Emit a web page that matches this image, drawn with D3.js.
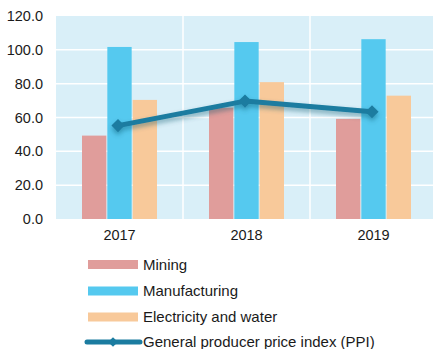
<!DOCTYPE html>
<html>
<head>
<meta charset="utf-8">
<script src="https://cdn.jsdelivr.net/npm/d3@7"></script>
<style>
  html, body { margin: 0; padding: 0; background: #fff; }
  svg { display: block; font-family: Arial, "Liberation Sans", sans-serif; }
</style>
</head>
<body>
<svg id="chart" width="433" height="349"></svg>
<script>
// Producer price data by sector
const years = ["2017", "2018", "2019"];
const mining = [49.3, 65.8, 59.2];
const manufacturing = [101.7, 104.6, 106.3];
const electricity = [70.4, 80.9, 72.9];
const ppi = [55.2, 69.7, 63.4];
const yTicks = [0, 20, 40, 60, 80, 100, 120];

const seriesNames = ["Mining", "Manufacturing", "Electricity and water"];
const seriesValues = [mining, manufacturing, electricity];
const seriesColors = ["#e09d9b", "#55c9ef", "#f8c99a"];
const lineName = "General producer price index (PPI)";
const lineColor = "#1b7ca0";

const svg = d3.select("#chart");

// Defs: soft shadow under the PPI line
const defs = svg.append("defs");
const f = defs.append("filter").attr("id", "shadow")
  .attr("x", "-20%").attr("y", "-50%").attr("width", "140%").attr("height", "200%");
f.append("feDropShadow").attr("dx", 0).attr("dy", 3).attr("stdDeviation", 2.5)
  .attr("flood-color", "#0d4d66").attr("flood-opacity", 0.45);

const plot = { left: 56, right: 437, top: 16, bottom: 219 };

const x0 = d3.scaleBand().domain(years).range([plot.left, plot.right]).paddingInner(0).paddingOuter(0);
const groupWidth = 75;
const x1 = d3.scaleBand().domain(seriesNames).range([0, groupWidth]).paddingInner(0.04);
const y = d3.scaleLinear().domain([0, 120]).range([plot.bottom, plot.top]);

// Plot background
svg.append("rect")
  .attr("x", plot.left).attr("y", plot.top)
  .attr("width", plot.right - plot.left).attr("height", plot.bottom - plot.top)
  .attr("fill", "#d9eff8");

// Horizontal gridlines
svg.append("g").selectAll("line")
  .data(yTicks.filter(t => t > 0 && t < 120))
  .join("line")
  .attr("x1", plot.left).attr("x2", plot.right)
  .attr("y1", d => y(d)).attr("y2", d => y(d))
  .attr("stroke", "#ffffff").attr("stroke-width", 1.5);

// Vertical separators between years
svg.append("g").selectAll("line")
  .data(years.slice(1))
  .join("line")
  .attr("x1", d => x0(d)).attr("x2", d => x0(d))
  .attr("y1", plot.top).attr("y2", plot.bottom)
  .attr("stroke", "#ffffff").attr("stroke-width", 1.5);

// Y axis labels
const yAxis = d3.axisLeft(y).tickValues(yTicks).tickFormat(d3.format(".1f")).tickSize(0).tickPadding(0);
const yg = svg.append("g").attr("transform", "translate(43,0)").call(yAxis);
yg.select(".domain").remove();
yg.selectAll("text").attr("font-size", "14.5px").attr("fill", "#1a1a1a").attr("font-family", "Arial, 'Liberation Sans', sans-serif");

// X axis labels
const xAxis = d3.axisBottom(x0).tickSize(0).tickPadding(0);
const xg = svg.append("g").attr("transform", `translate(0,${plot.bottom + 11})`).call(xAxis);
xg.select(".domain").remove();
xg.selectAll("text").attr("font-size", "14.5px").attr("fill", "#1a1a1a").attr("font-family", "Arial, 'Liberation Sans', sans-serif");

// Bars
const groups = svg.append("g").selectAll("g")
  .data(years)
  .join("g")
  .attr("transform", d => `translate(${x0(d) + x0.bandwidth() / 2 - groupWidth / 2},0)`);

groups.selectAll("rect")
  .data((d, i) => seriesNames.map((s, k) => ({ s, v: seriesValues[k][i], c: seriesColors[k] })))
  .join("rect")
  .attr("x", d => x1(d.s))
  .attr("width", x1.bandwidth())
  .attr("y", d => y(d.v))
  .attr("height", d => y(0) - y(d.v))
  .attr("fill", d => d.c);

// PPI line with diamond markers
const cx = (d, i) => x0(years[i]) + x0.bandwidth() / 2 - 1.5;
const lineG = svg.append("g").attr("filter", "url(#shadow)");
lineG.append("path")
  .datum(ppi)
  .attr("d", d3.line().x(cx).y(d => y(d)))
  .attr("fill", "none").attr("stroke", lineColor).attr("stroke-width", 5)
  .attr("stroke-linejoin", "round");
const diamond = d3.symbol().type(d3.symbolDiamond2).size(110);
lineG.selectAll("path.m")
  .data(ppi)
  .join("path").attr("class", "m")
  .attr("d", diamond)
  .attr("transform", (d, i) => `translate(${cx(d, i)},${y(d)})`)
  .attr("fill", lineColor);

// Legend
const legendX = 88, legendW = 50, rowY = [264.5, 291, 317, 342];
const legend = svg.append("g");
seriesNames.forEach((s, k) => {
  legend.append("rect")
    .attr("x", legendX).attr("y", rowY[k] - 4.5)
    .attr("width", legendW).attr("height", 9)
    .attr("fill", seriesColors[k]);
  legend.append("text")
    .attr("x", legendX + legendW + 5).attr("y", rowY[k])
    .attr("dy", "0.35em")
    .attr("font-size", "15px").attr("fill", "#1a1a1a")
    .text(s);
});
legend.append("line")
  .attr("x1", legendX - 1).attr("x2", legendX + legendW + 2)
  .attr("y1", rowY[3]).attr("y2", rowY[3])
  .attr("stroke", lineColor).attr("stroke-width", 5).attr("stroke-linecap", "round");
legend.append("path")
  .attr("d", d3.symbol().type(d3.symbolDiamond2).size(60))
  .attr("transform", `translate(${legendX + 25},${rowY[3]})`)
  .attr("fill", lineColor);
legend.append("text")
  .attr("x", legendX + legendW + 5).attr("y", rowY[3])
  .attr("dy", "0.33em")
  .attr("font-size", "15px").attr("fill", "#1a1a1a")
  .text(lineName);
</script>
</body>
</html>
